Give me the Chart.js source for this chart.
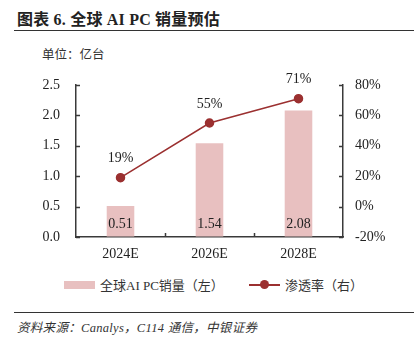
<!DOCTYPE html>
<html>
<head>
<meta charset="utf-8">
<script src="https://cdn.jsdelivr.net/npm/chart.js@4/dist/chart.umd.min.js"></script>
<style>
  html, body { margin: 0; padding: 0; background: #fff; }
  body { width: 419px; height: 349px; position: relative; overflow: hidden;
         font-family: "Liberation Serif", "Noto Sans CJK SC", serif; color: #222; }
  .abs { position: absolute; white-space: nowrap; }
  #title { left: 17px; top: 6px; font-size: 16px; font-weight: bold; letter-spacing: 0.2px; }
  .rule { position: absolute; left: 14px; width: 400px; height: 0; border-top: 1.5px solid #333; }
  #unit { left: 42px; top: 44px; font-size: 12.5px; color: #333; }
  #src { left: 17px; top: 317px; font-size: 12.5px; font-style: italic; color: #333; letter-spacing: 0.3px; }
  #legend { left: 0; top: 275px; width: 419px; height: 20px; font-size: 13px; color: #333; }
  .sw-bar { position: absolute; left: 64px; top: 6px; width: 31px; height: 8px; background: #e8c0c0; }
  .sw-line { position: absolute; left: 249px; top: 9px; width: 31px; height: 0; border-top: 2px solid #9b3030; }
  .sw-dot { position: absolute; left: 260px; top: 5px; width: 9px; height: 9px; border-radius: 50%; background: #9b3030; }
  #chartBox { position: absolute; left: 0; top: 60px; width: 419px; height: 212px; }
</style>
</head>
<body>
<div id="title" class="abs">图表 6. 全球 AI PC 销量预估</div>
<div class="rule" style="top:30px"></div>
<div id="unit" class="abs">单位：亿台</div>
<div id="chartBox"><canvas id="c" width="419" height="212"></canvas></div>
<div id="legend" class="abs">
  <span class="sw-bar"></span>
  <span class="abs" style="left:100px; top:0">全球AI PC销量（左）</span>
  <span class="sw-line"></span><span class="sw-dot"></span>
  <span class="abs" style="left:285px; top:0">渗透率（右）</span>
</div>
<div class="rule" style="top:312px"></div>
<div id="src" class="abs">资料来源：Canalys，C114 通信，中银证券</div>

<script>
// Global AI PC shipments (100 million units) and penetration rate (%)
const years = ['2024E', '2026E', '2028E'];
const shipments = [0.51, 1.54, 2.08];
const penetration = [19, 55, 71];
const leftTicks = [0, 0.5, 1.0, 1.5, 2.0, 2.5];
const rightTicks = [-20, 0, 20, 40, 60, 80];

const BAR = '#e8c0c0';
const LINE = '#9b3030';
const AXIS = '#3a3a3a';
const FONT = { family: 'Liberation Serif', size: 14 };

// dataset indices
const LINE_IDX = 0;
const BAR_IDX = 1;

// short tick marks pointing into the plot area, plus value labels
const innerTicks = {
  id: 'innerTicks',
  afterDraw(chart) {
    const ctx = chart.ctx;
    const { x, y, yR } = chart.scales;
    ctx.save();
    ctx.strokeStyle = AXIS;
    ctx.lineWidth = 1.5;
    ctx.beginPath();
    y.ticks.forEach(t => {
      const py = Math.round(y.getPixelForValue(t.value)) + 0.5;
      ctx.moveTo(y.right, py); ctx.lineTo(y.right + 4, py);
    });
    yR.ticks.forEach(t => {
      const py = Math.round(yR.getPixelForValue(t.value)) + 0.5;
      ctx.moveTo(yR.left, py); ctx.lineTo(yR.left - 4, py);
    });
    for (let i = 0; i < years.length - 1; i++) {
      const px = Math.round((x.getPixelForValue(i) + x.getPixelForValue(i + 1)) / 2) + 0.5;
      ctx.moveTo(px, x.top); ctx.lineTo(px, x.top - 4);
    }
    ctx.stroke();

    ctx.font = '14px "Liberation Serif"';
    ctx.fillStyle = '#222';
    ctx.textAlign = 'center';
    ctx.textBaseline = 'middle';
    chart.getDatasetMeta(BAR_IDX).data.forEach((bar, i) => {
      ctx.fillText(shipments[i].toFixed(2), bar.x, y.getPixelForValue(0) - 13);
    });
    chart.getDatasetMeta(LINE_IDX).data.forEach((pt, i) => {
      ctx.fillText(penetration[i] + '%', pt.x, pt.y - 19);
    });
    ctx.restore();
  }
};

new Chart(document.getElementById('c'), {
  data: {
    labels: years,
    datasets: [
      {
        type: 'line', label: '渗透率（右）', data: penetration, yAxisID: 'yR',
        borderColor: LINE, backgroundColor: LINE, borderWidth: 1.5,
        pointRadius: 4, pointHoverRadius: 4, order: 0
      },
      {
        type: 'bar', label: '全球AI PC销量（左）', data: shipments, yAxisID: 'y',
        backgroundColor: BAR, barPercentage: 0.31, categoryPercentage: 1, order: 1
      }
    ]
  },
  options: {
    responsive: false,
    animation: false,
    events: [],
    layout: { padding: { top: 25, left: 0, right: 0, bottom: 0 } },
    plugins: { legend: { display: false }, tooltip: { enabled: false } },
    scales: {
      x: {
        offset: true,
        grid: { display: true, drawOnChartArea: false, drawTicks: false },
        border: { color: AXIS, width: 1.5 },
        ticks: { font: FONT, color: '#222', padding: 9 },
        afterFit(s) { s.height = 35; }
      },
      y: {
        position: 'left', min: 0, max: 2.5,
        afterBuildTicks(s) { s.ticks = leftTicks.map(v => ({ value: v })); },
        grid: { display: true, drawOnChartArea: false, drawTicks: false },
        border: { color: AXIS, width: 1.5 },
        ticks: { font: FONT, color: '#222', padding: 16, callback: v => v.toFixed(1) },
        afterFit(s) { s.width = 76; }
      },
      yR: {
        position: 'right', min: -20, max: 80,
        afterBuildTicks(s) { s.ticks = rightTicks.map(v => ({ value: v })); },
        grid: { display: true, drawOnChartArea: false, drawTicks: false },
        border: { color: AXIS, width: 1.5 },
        ticks: { font: FONT, color: '#222', padding: 12, callback: v => v + '%' },
        afterFit(s) { s.width = 76; }
      }
    }
  },
  plugins: [innerTicks]
});
</script>
</body>
</html>
